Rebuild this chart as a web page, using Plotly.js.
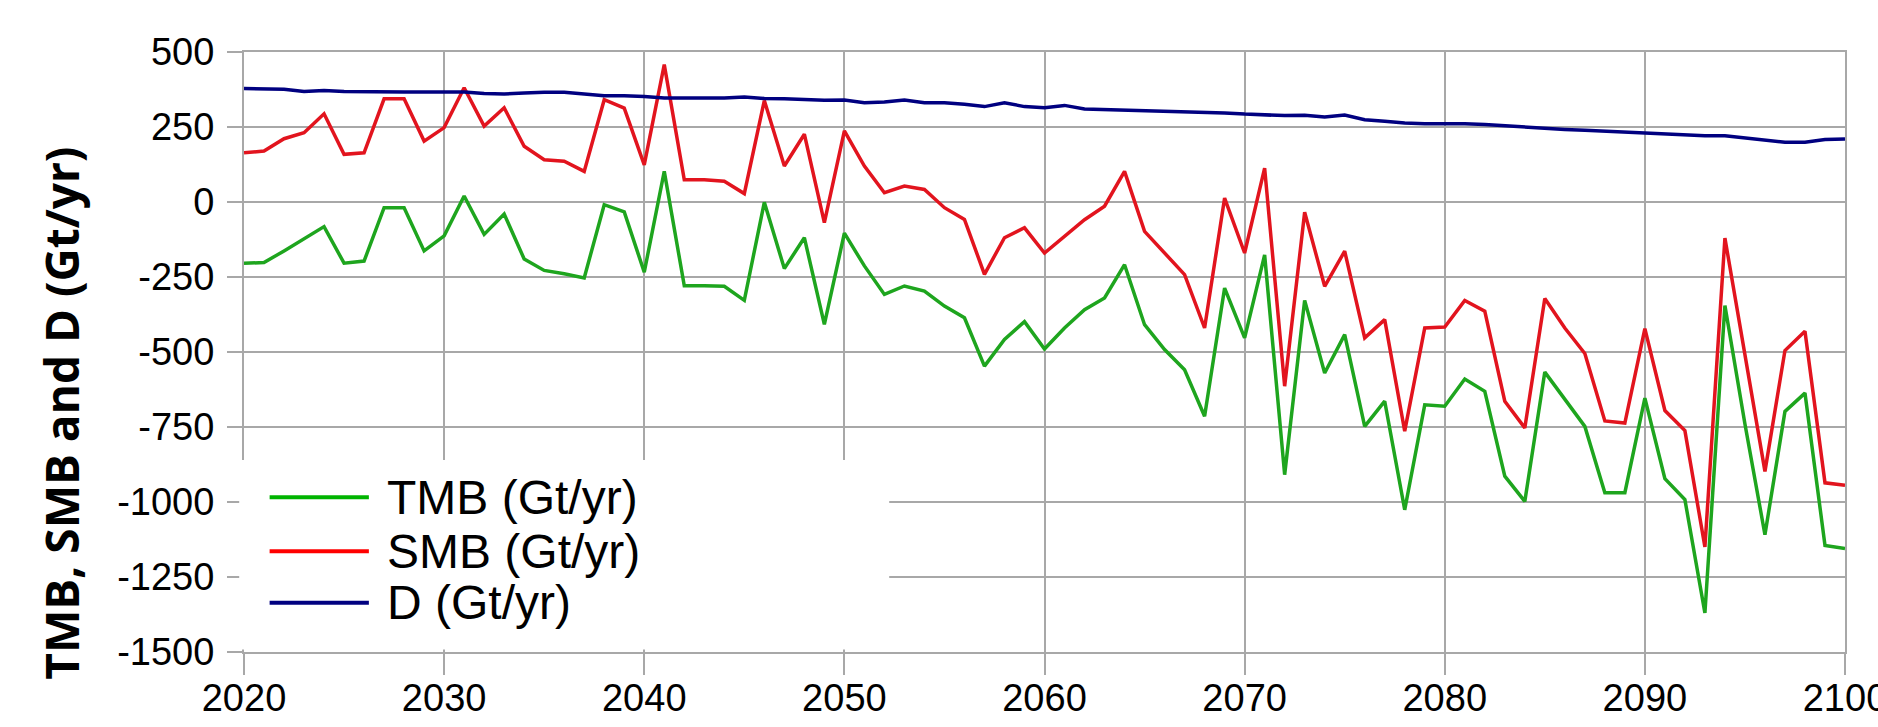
<!DOCTYPE html>
<html>
<head>
<meta charset="utf-8">
<script src="https://cdn.plot.ly/plotly-3.0.1.min.js"></script>
<style>
  html, body { margin: 0; padding: 0; background: #ffffff; }
  #chart { width: 1878px; height: 727px; }
</style>
</head>
<body>
<div id="chart"></div>
<script>
// ---- data ----
const years = [2020,2021,2022,2023,2024,2025,2026,2027,2028,2029,
  2030,2031,2032,2033,2034,2035,2036,2037,2038,2039,
  2040,2041,2042,2043,2044,2045,2046,2047,2048,2049,
  2050,2051,2052,2053,2054,2055,2056,2057,2058,2059,
  2060,2061,2062,2063,2064,2065,2066,2067,2068,2069,
  2070,2071,2072,2073,2074,2075,2076,2077,2078,2079,
  2080,2081,2082,2083,2084,2085,2086,2087,2088,2089,
  2090,2091,2092,2093,2094,2095,2096,2097,2098,2099,2100];

const tmb = [-204,-202,-163,-124,-82,-204,-197,-19,-19,-163,
  -113,20,-108,-40,-190,-228,-239,-253,-9,-33,
  -234,102,-279,-279,-281,-328,-1,-222,-119,-408,
  -104,-213,-308,-280,-297,-347,-386,-547,-458,-399,
  -490,-420,-359,-320,-209,-409,-492,-559,-714,-287,
  -453,-176,-909,-328,-570,-442,-748,-664,-1026,-676,
  -681,-590,-631,-914,-998,-567,-657,-748,-969,-969,
  -654,-922,-992,-1370,-345,-740,-1109,-698,-637,-1145,-1155];

const smb = [164,170,211,231,294,159,164,344,344,203,
  248,381,253,314,186,141,136,102,341,313,
  124,458,74,74,69,28,338,120,226,-69,
  237,120,31,53,42,-19,-58,-241,-119,-86,
  -170,-114,-59,-14,102,-98,-170,-242,-420,13,
  -170,113,-614,-34,-281,-164,-453,-392,-764,-420,
  -417,-328,-364,-664,-753,-322,-420,-505,-730,-737,
  -422,-695,-762,-1150,-120,-515,-898,-495,-431,-936,-944];

const discharge = [378,378,376,368,372,368,367,367,367,367,
  367,367,362,360,363,366,366,361,354,354,
  352,347,347,347,347,350,345,344,342,339,
  340,331,333,340,331,331,326,318,331,318,
  314,322,310,308,308,306,302,302,299,297,
  293,291,288,289,283,290,274,269,263,261,
  261,261,258,254,250,244,242,239,236,232,
  230,228,224,221,221,213,206,199,199,208,210];

const seriesNames = ['TMB (Gt/yr)', 'SMB (Gt/yr)', 'D (Gt/yr)'];
const yAxisLabel = 'TMB, SMB and D (Gt/yr)';

const xTickVals = [2020,2030,2040,2050,2060,2070,2080,2090,2100];
const xTickText = ['2020','2030','2040','2050','2060','2070','2080','2090','2100'];
const yTickVals = [500,250,0,-250,-500,-750,-1000,-1250,-1500];
const yTickText = ['500','250','0','-250','-500','-750','-1000','-1250','-1500'];

// ---- styles ----
const colTMB = '#1ea51e';
const colSMB = '#e2141e';
const colD = '#000080';
const gridCol = '#a8a8a8';
const lineW = 3.5;

const traces = [
  {x: years, y: tmb, name: seriesNames[0], type: 'scatter', mode: 'lines',
   line: {color: colTMB, width: lineW}},
  {x: years, y: smb, name: seriesNames[1], type: 'scatter', mode: 'lines',
   line: {color: colSMB, width: lineW}},
  {x: years, y: discharge, name: seriesNames[2], type: 'scatter', mode: 'lines',
   line: {color: colD, width: lineW}}
];

const tickFont = {family: 'Liberation Sans, Arial, sans-serif', size: 38, color: '#000000'};

// manual legend (long line samples like the reference)
const legendColors = ['#00b400', '#ff0000', '#000080'];
const legendRowY = [0.258, 0.168, 0.082];
const shapes = [
  {type: 'rect', xref: 'paper', yref: 'paper', x0: -0.003, x1: 0.403, y0: 0.004, y1: 0.32,
   fillcolor: '#ffffff', line: {width: 0}, layer: 'above'}
];
const annotations = [];
for (let i = 0; i < seriesNames.length; i++) {
  shapes.push({type: 'line', xref: 'paper', yref: 'paper',
    x0: 0.016, x1: 0.078, y0: legendRowY[i], y1: legendRowY[i],
    line: {color: legendColors[i], width: 4}, layer: 'above'});
  annotations.push({xref: 'paper', yref: 'paper', x: 0.088, y: legendRowY[i],
    xanchor: 'left', yanchor: 'middle', showarrow: false, text: seriesNames[i],
    font: {family: 'Liberation Sans, Arial, sans-serif', size: 48, color: '#000000'}});
}
annotations.push({xref: 'paper', yref: 'paper', x: -0.114, y: 0.398,
  xanchor: 'center', yanchor: 'middle', showarrow: false, textangle: -90,
  text: yAxisLabel,
  font: {family: 'Open Sans, Noto Sans, sans-serif', size: 46, color: '#000000', weight: 700}});

const layout = {
  width: 1878, height: 727,
  margin: {l: 244, r: 33, t: 52, b: 75, pad: 0},
  paper_bgcolor: '#ffffff', plot_bgcolor: '#ffffff',
  showlegend: false,
  xaxis: {
    range: [2020, 2100], tickmode: 'array', tickvals: xTickVals, ticktext: xTickText,
    showgrid: true, gridcolor: gridCol, gridwidth: 2,
    ticks: 'outside', ticklen: 21, tickwidth: 2, tickcolor: gridCol,
    showline: true, linecolor: gridCol, linewidth: 2, mirror: true,
    zeroline: false, tickfont: tickFont, automargin: false,
    ticklabelstandoff: -10, ticklabeloverflow: 'allow'
  },
  yaxis: {
    range: [-1500, 500], tickmode: 'array', tickvals: yTickVals, ticktext: yTickText,
    showgrid: true, gridcolor: gridCol, gridwidth: 2,
    ticks: 'outside', ticklen: 15, tickwidth: 2, tickcolor: gridCol,
    showline: true, linecolor: gridCol, linewidth: 2, mirror: true,
    zeroline: false, tickfont: tickFont, automargin: false, ticklabelstandoff: 5
  },
  shapes: shapes,
  annotations: annotations
};

Plotly.newPlot('chart', traces, layout, {staticPlot: true, displayModeBar: false});
</script>
</body>
</html>
